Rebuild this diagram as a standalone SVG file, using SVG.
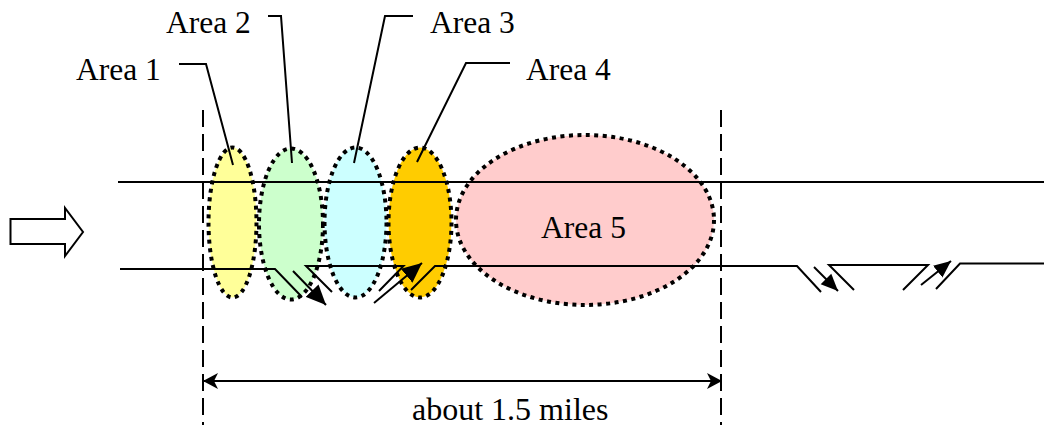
<svg xmlns="http://www.w3.org/2000/svg" width="1044" height="425" viewBox="0 0 1044 425">
<style>
text{font-family:"Liberation Serif","Times New Roman",serif;font-size:31.500px;fill:#000}
.area{stroke:#000;stroke-width:4;stroke-dasharray:4 4.500}
.ln{fill:none;stroke:#000;stroke-width:2}
.dash{fill:none;stroke:#000;stroke-width:2;stroke-dasharray:17 7}
</style>
<defs>
<marker id="big" markerUnits="userSpaceOnUse" markerWidth="22" markerHeight="18" refX="20" refY="9" orient="auto"><path d="M0 0L20 9L0 18Z" fill="#000"/></marker>
<marker id="small" markerUnits="userSpaceOnUse" markerWidth="19" markerHeight="16" refX="17" refY="8" orient="auto"><path d="M0 .5L17 8L0 15.500Z" fill="#000"/></marker>
<marker id="open" markerUnits="userSpaceOnUse" markerWidth="16" markerHeight="16" refX="15" refY="8" orient="auto-start-reverse"><path d="M0 0L15 8L0 16L4 8Z" fill="#000"/></marker>
</defs>
<g id="area1"><ellipse class="area" cx="232.500" cy="222.500" rx="24" ry="75" fill="#ffff99"/></g>
<g id="area2"><ellipse class="area" cx="291" cy="224" rx="32" ry="75.500" fill="#ccffcc"/></g>
<g id="area3"><ellipse class="area" cx="355.500" cy="222.500" rx="31" ry="75" fill="#ccffff"/></g>
<g id="area4"><ellipse class="area" cx="420" cy="222.500" rx="31.500" ry="75" fill="#ffcc00"/></g>
<g id="area5"><ellipse class="area" cx="585" cy="220" rx="129" ry="85" fill="#ffcccc"/><text x="583.500" y="238" text-anchor="middle">Area 5</text></g>
<g id="flow"><path d="M10.500 219H65V208L83 232L65 256V244H10.500Z" fill="#fff" stroke="#000" stroke-width="2"/></g>
<g id="labels">
<text x="76" y="80">Area 1</text>
<text x="166" y="33">Area 2</text>
<text x="430" y="33">Area 3</text>
<text x="526" y="80">Area 4</text>
<text x="412" y="420" style="font-size:32px">about 1.5 miles</text>
</g>
<g id="connectors">
<path class="ln" d="M118 182H1044"/>
<path class="ln" d="M120 269H275L302 297"/>
<path class="ln" d="M332 292L306 266H403.500L379 291"/>
<path class="ln" d="M411 290L435 266H797L821 292"/>
<path class="ln" d="M854 290L829 265H928L903 290"/>
<path class="ln" d="M936 289L960 263.500H1044"/>
<path class="ln" d="M179 64H206L233 165"/>
<path class="ln" d="M268 16H281L292 163"/>
<path class="ln" d="M413 16H385L354 163"/>
<path class="ln" d="M510 63H466L417 162"/>
<path class="dash" d="M203 110V425"/>
<path class="dash" d="M721 110V425"/>
<path class="ln" d="M293 271L326 305" marker-end="url(#big)"/>
<path class="ln" d="M374 303L422 263" marker-end="url(#big)"/>
<path class="ln" d="M814 267L838 291" marker-end="url(#small)"/>
<path class="ln" d="M921 285L951 261" marker-end="url(#small)"/>
<path class="ln" d="M203 381H722" marker-start="url(#open)" marker-end="url(#open)"/>
</g>
</svg>
